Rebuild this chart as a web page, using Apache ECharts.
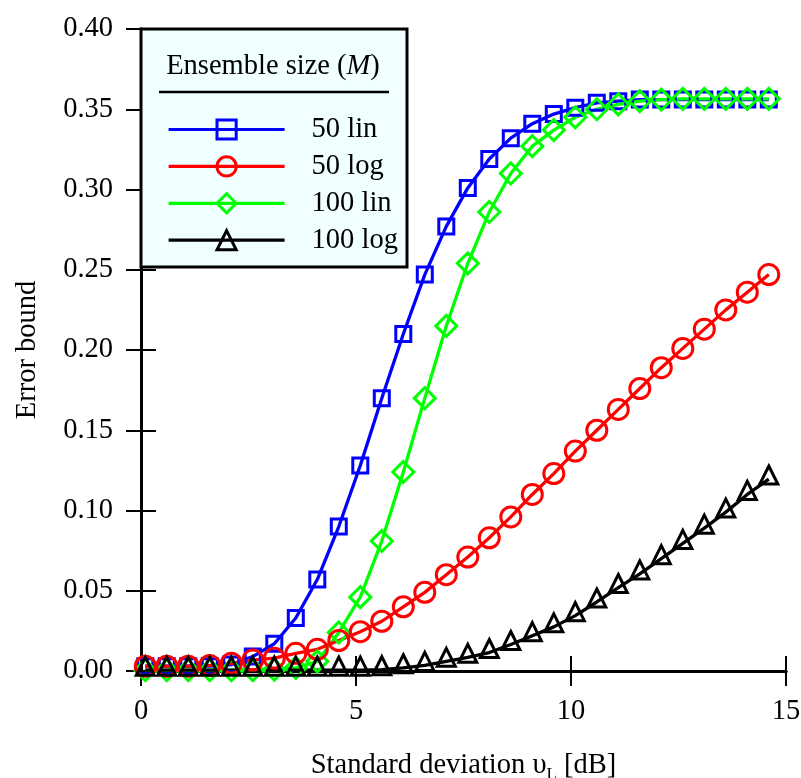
<!DOCTYPE html>
<html>
<head>
<meta charset="utf-8">
<script src="https://cdn.jsdelivr.net/npm/echarts@6/dist/echarts.min.js"></script>
<style>
html,body{margin:0;padding:0;background:#fff;}
#chart{width:801px;height:778px;}
</style>
</head>
<body>
<div id="chart"></div>
<script>
// ---- data ----
const xs = [0.1, 0.6, 1.1, 1.6, 2.1, 2.6, 3.1, 3.6, 4.1, 4.6, 5.1, 5.6, 6.1, 6.6, 7.1, 7.6, 8.1, 8.6, 9.1, 9.6, 10.1, 10.6, 11.1, 11.6, 12.1, 12.6, 13.1, 13.6, 14.1, 14.6];
const lin50 = [0.003, 0.003, 0.003, 0.003, 0.004, 0.009, 0.017, 0.033, 0.057, 0.090, 0.128, 0.170, 0.210, 0.247, 0.277, 0.301, 0.319, 0.332, 0.341, 0.347, 0.351, 0.354, 0.355, 0.356, 0.356, 0.356, 0.356, 0.356, 0.356, 0.356];
const log50 = [0.003, 0.003, 0.003, 0.0035, 0.0048, 0.0068, 0.008, 0.011, 0.0135, 0.019, 0.0245, 0.031, 0.040, 0.049, 0.060, 0.071, 0.083, 0.096, 0.110, 0.123, 0.137, 0.150, 0.163, 0.176, 0.189, 0.201, 0.213, 0.225, 0.236, 0.247];
const lin100 = [0.0005, 0.0005, 0.0005, 0.0005, 0.0005, 0.0005, 0.0008, 0.002, 0.006, 0.024, 0.046, 0.081, 0.124, 0.170, 0.215, 0.254, 0.286, 0.310, 0.327, 0.337, 0.345, 0.350, 0.353, 0.355, 0.356, 0.3565, 0.3565, 0.3565, 0.3565, 0.3565];
const log100 = [0.0005, 0.0005, 0.0005, 0.0005, 0.0005, 0.0005, 0.0005, 0.0005, 0.0005, 0.0005, 0.0005, 0.0008, 0.002, 0.0035, 0.006, 0.0085, 0.0115, 0.0165, 0.022, 0.0275, 0.0345, 0.043, 0.052, 0.0605, 0.070, 0.0795, 0.089, 0.099, 0.110, 0.1196];
const seriesNames = ['50 lin', '50 log', '100 lin', '100 log'];
const xTicks = [0, 5, 10, 15];
const yTickStep = 0.05;
const legendTitle = 'Ensemble size (';
const legendTitleVar = 'M';
const xTitle = 'Standard deviation υ';
const xTitleSub = 'L';
const xTitleUnit = ' [dB]';
const yTitle = 'Error bound';

const FONT = 'Liberation Serif';
const FS = 28.5;

function pairs(ys) { return xs.map((x, i) => [x, ys[i]]); }

function mkSeries(name, ys, color, symbol, size, offset) {
  return {
    name: name, type: 'line', data: pairs(ys),
    symbol: symbol, symbolSize: size, symbolOffset: offset || [0, 0],
    showSymbol: true, showAllSymbol: true,
    lineStyle: { color: color, width: 3.3 },
    itemStyle: { color: 'rgba(0,0,0,0)', borderColor: color, borderWidth: 3 },
    emphasis: { disabled: true },
    animation: false
  };
}

const grid = { left: 141, top: 29, width: 645, height: 642, containLabel: false, outerBoundsMode: 'none' };
const tickStyle = { show: true, inside: false, length: 15, lineStyle: { color: '#000', width: 2 } };
const lineAx = { show: true, lineStyle: { color: '#000', width: 3 } };

const chart = echarts.init(document.getElementById('chart'), null, { renderer: 'canvas' });
chart.setOption({
  animation: false,
  backgroundColor: '#fff',
  grid: grid,
  xAxis: [{
    type: 'value', min: 0, max: 15, interval: 5, position: 'bottom',
    axisLine: lineAx, axisTick: tickStyle, splitLine: { show: false },
    axisLabel: { fontFamily: FONT, fontSize: FS, color: '#000', margin: 26 },
    name: '{a|' + xTitle + '}{s|' + xTitleSub + '}{a|' + xTitleUnit + '}',
    nameLocation: 'middle', nameGap: 77,
    nameTextStyle: {
      fontFamily: FONT, fontSize: FS, color: '#000',
      rich: {
        a: { fontFamily: FONT, fontSize: FS, color: '#000' },
        s: { fontFamily: FONT, fontSize: 17, color: '#000', padding: [18, 0, 0, 0] }
      }
    }
  }, {
    type: 'value', min: 0, max: 15, interval: 5, position: 'top',
    axisLine: lineAx, axisTick: tickStyle, splitLine: { show: false },
    axisLabel: { show: false }
  }],
  yAxis: [{
    type: 'value', min: 0, max: 0.4, interval: yTickStep, position: 'left',
    axisLine: lineAx, axisTick: tickStyle, splitLine: { show: false },
    axisLabel: { fontFamily: FONT, fontSize: FS, color: '#000', margin: 28, formatter: v => v.toFixed(2) },
    name: yTitle, nameLocation: 'middle', nameGap: 99,
    nameTextStyle: { fontFamily: FONT, fontSize: FS, color: '#000' }
  }, {
    type: 'value', min: 0, max: 0.4, interval: yTickStep, position: 'right',
    axisLine: lineAx, axisTick: tickStyle, splitLine: { show: false },
    axisLabel: { show: false }
  }],
  legend: {
    data: seriesNames,
    orient: 'vertical', left: 167, top: 115, padding: 0,
    itemWidth: 116, itemHeight: 24, itemGap: 7.9,
    z: 10,
    selectedMode: false,
    lineStyle: { width: 3.2 },
    itemStyle: { borderWidth: 3 },
    textStyle: { fontFamily: FONT, fontSize: FS, color: '#000', padding: [0, 0, 0, 22] }
  },
  graphic: [
    { type: 'rect', z: 8, shape: { x: 141, y: 29, width: 266, height: 238 },
      style: { fill: '#f0ffff', stroke: '#000', lineWidth: 3 } },
    { type: 'text', z: 9, x: 273, y: 67,
      style: { text: '{n|' + legendTitle + '}{i|' + legendTitleVar + '}{n|)}',
        align: 'center', verticalAlign: 'middle',
        rich: {
          n: { fontFamily: FONT, fontSize: FS, fill: '#000' },
          i: { fontFamily: FONT, fontSize: FS, fontStyle: 'italic', fill: '#000' }
        } } },
    { type: 'line', z: 9, shape: { x1: 159, y1: 92, x2: 389, y2: 92 },
      style: { stroke: '#000', lineWidth: 2.5 } }
  ],
  series: [
    mkSeries(seriesNames[0], lin50, '#0000ff', 'rect', 15),
    mkSeries(seriesNames[2], lin100, '#00ff00', 'diamond', 21),
    mkSeries(seriesNames[1], log50, '#ff0000', 'circle', 20),
    mkSeries(seriesNames[3], log100, '#000000', 'triangle', 18, [0, -4])
  ]
});
</script>
</body>
</html>
